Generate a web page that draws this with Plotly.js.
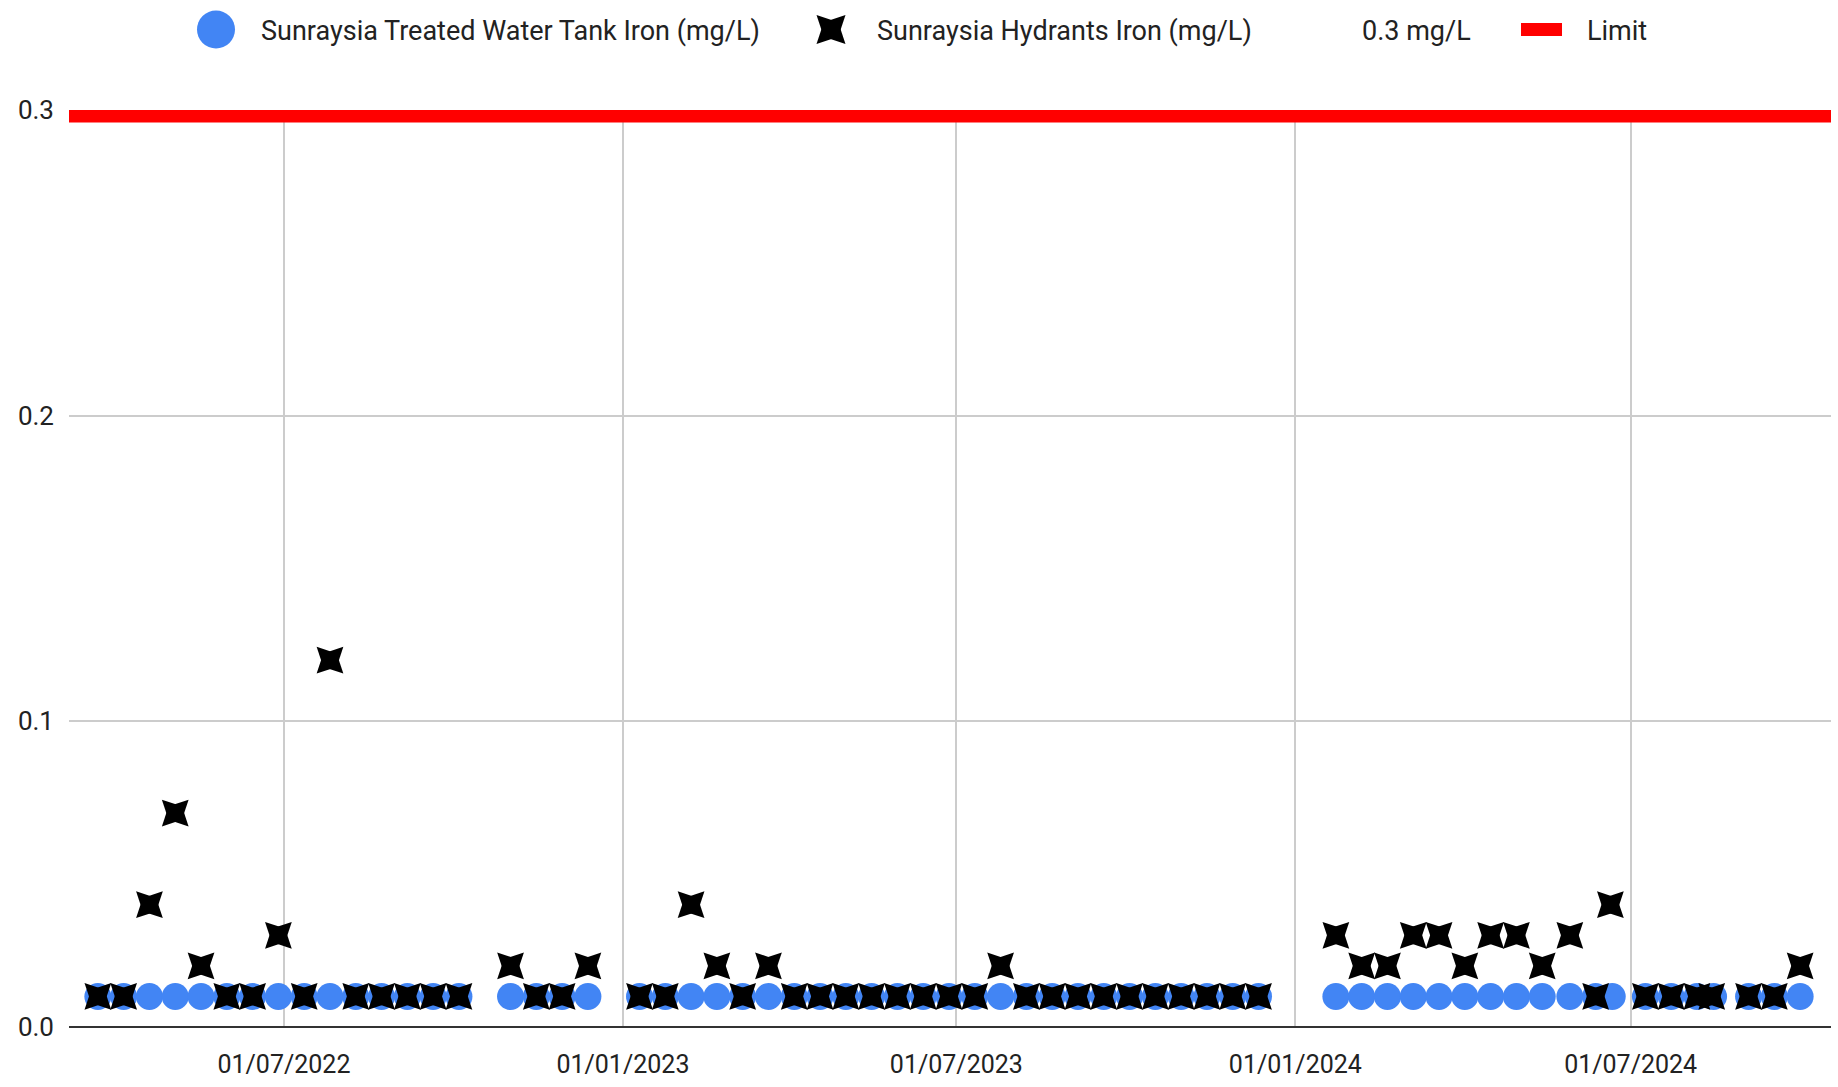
<!DOCTYPE html>
<html><head><meta charset="utf-8">
<script src="https://cdn.plot.ly/plotly-3.0.1.min.js"></script>
<style>html,body{margin:0;padding:0;background:#fff}#chart{width:1838px;height:1087px}</style>
</head><body><div id="chart"></div><script>
const tankDates = [
  '2022-03-22','2022-04-05','2022-04-19','2022-05-03','2022-05-17','2022-05-31','2022-06-14','2022-06-28','2022-07-12','2022-07-26','2022-08-09','2022-08-23','2022-09-06','2022-09-20','2022-10-04',
  '2022-11-01','2022-11-15','2022-11-29','2022-12-13',
  '2023-01-10','2023-01-24','2023-02-07','2023-02-21','2023-03-07','2023-03-21','2023-04-04','2023-04-18','2023-05-02','2023-05-16','2023-05-30','2023-06-13','2023-06-27','2023-07-11','2023-07-25','2023-08-08','2023-08-22','2023-09-05','2023-09-19','2023-10-03','2023-10-17','2023-10-31','2023-11-14','2023-11-28','2023-12-12',
  '2024-01-23','2024-02-06','2024-02-20','2024-03-05','2024-03-19','2024-04-02','2024-04-16','2024-04-30','2024-05-14','2024-05-29','2024-06-12','2024-06-21',
  '2024-07-09','2024-07-23','2024-08-06','2024-08-15','2024-09-03','2024-09-17','2024-10-01'
];
const tankIron = [
  0.01,0.01,0.01,0.01,0.01,0.01,0.01,0.01,0.01,0.01,0.01,0.01,0.01,0.01,0.01,
  0.01,0.01,0.01,0.01,
  0.01,0.01,0.01,0.01,0.01,0.01,0.01,0.01,0.01,0.01,0.01,0.01,0.01,0.01,0.01,0.01,0.01,0.01,0.01,0.01,0.01,0.01,0.01,0.01,0.01,
  0.01,0.01,0.01,0.01,0.01,0.01,0.01,0.01,0.01,0.01,0.01,0.01,
  0.01,0.01,0.01,0.01,0.01,0.01,0.01
];
const hydrantDates = [
  '2022-03-22','2022-04-05','2022-04-19','2022-05-03','2022-05-17','2022-05-31','2022-06-14','2022-06-28','2022-07-12','2022-07-26','2022-08-09','2022-08-23','2022-09-06','2022-09-20','2022-10-04',
  '2022-11-01','2022-11-15','2022-11-29','2022-12-13',
  '2023-01-10','2023-01-24','2023-02-07','2023-02-21','2023-03-07','2023-03-21','2023-04-04','2023-04-18','2023-05-02','2023-05-16','2023-05-30','2023-06-13','2023-06-27','2023-07-11','2023-07-25','2023-08-08','2023-08-22','2023-09-05','2023-09-19','2023-10-03','2023-10-17','2023-10-31','2023-11-14','2023-11-28','2023-12-12',
  '2024-01-23','2024-02-06','2024-02-20','2024-03-05','2024-03-19','2024-04-02','2024-04-16','2024-04-30','2024-05-14','2024-05-29','2024-06-12','2024-06-20',
  '2024-07-09','2024-07-23','2024-08-06','2024-08-14','2024-09-03','2024-09-17','2024-10-01'
];
const hydrantIron = [
  0.01,0.01,0.04,0.07,0.02,0.01,0.01,0.03,0.01,0.12,0.01,0.01,0.01,0.01,0.01,
  0.02,0.01,0.01,0.02,
  0.01,0.01,0.04,0.02,0.01,0.02,0.01,0.01,0.01,0.01,0.01,0.01,0.01,0.01,0.02,0.01,0.01,0.01,0.01,0.01,0.01,0.01,0.01,0.01,0.01,
  0.03,0.02,0.02,0.03,0.03,0.02,0.03,0.03,0.02,0.03,0.01,0.04,
  0.01,0.01,0.01,0.01,0.01,0.01,0.02
];
const limitDates = ['2022-03-01','2024-10-31'];
const limitValues = [0.3, 0.3];
const xTickDates = ['2022-07-01','2023-01-01','2023-07-01','2024-01-01','2024-07-01'];
const xTickLabels = ['01/07/2022','01/01/2023','01/07/2023','01/01/2024','01/07/2024'];
const yTickValues = [0, 0.1, 0.2, 0.3];
const yTickLabels = ['0.0','0.1','0.2','0.3'];
const seriesNames = ['Sunraysia Treated Water Tank Iron (mg/L)','Sunraysia Hydrants Iron (mg/L)','0.3 mg/L','Limit'];

const FONT = 'Roboto, "Liberation Sans", Arial, sans-serif';
const TXT = '#222222';
// the hydrant "x" marker is built from two crossed narrow diamonds
const crossArm = {symbol: 'diamond-tall', size: 27, color: '#000000', line: {width: 0}};
const traces = [
  {x: tankDates, y: tankIron, name: seriesNames[0], type: 'scatter', mode: 'markers', legend: 'legend',
   marker: {symbol: 'circle', size: 27, color: '#4285F4'}, cliponaxis: false},
  {x: hydrantDates, y: hydrantIron, name: seriesNames[1], type: 'scatter', mode: 'markers', legend: 'legend2',
   marker: Object.assign({angle: 45}, crossArm), cliponaxis: false},
  {x: hydrantDates, y: hydrantIron, name: seriesNames[1], type: 'scatter', mode: 'markers', legend: 'legend2',
   showlegend: false, marker: Object.assign({angle: -45}, crossArm), cliponaxis: false},
  {x: limitDates, y: limitValues, name: seriesNames[2], type: 'scatter', mode: 'lines', legend: 'legend3',
   line: {color: 'rgba(0,0,0,0)', width: 1}, hoverinfo: 'skip'},
  {x: limitDates, y: limitValues, name: seriesNames[3], type: 'scatter', mode: 'lines', legend: 'legend4',
   line: {color: '#ff0000', width: 25}}
];
function leg(x, w) {
  return {orientation: 'h', x: x, xanchor: 'left', y: 1.0861, yanchor: 'middle',
    font: {family: FONT, size: 27, color: TXT}, itemwidth: w, bgcolor: 'rgba(0,0,0,0)', borderwidth: 0};
}
const layout = {
  width: 1838, height: 1087,
  margin: {l: 69, r: 7, t: 109, b: 60, pad: 0},
  paper_bgcolor: '#ffffff', plot_bgcolor: '#ffffff',
  font: {family: FONT, size: 26, color: TXT},
  showlegend: true,
  legend: leg(0.05789, 80),
  legend2: leg(0.40636, 82),
  legend3: leg(0.71112, 30),
  legend4: leg(0.82123, 61),
  xaxis: {type: 'date', range: ['2022-03-06 08:00', '2024-10-17 18:00'],
    tickmode: 'array', tickvals: xTickDates, ticktext: xTickLabels,
    showgrid: true, gridcolor: '#cccccc', gridwidth: 2, zeroline: false, showline: false,
    ticks: '', ticklabelstandoff: 20, tickfont: {family: FONT, size: 25, color: TXT}},
  yaxis: {range: [0, 0.3], tickmode: 'array', tickvals: yTickValues, ticktext: yTickLabels,
    showgrid: true, gridcolor: '#cccccc', gridwidth: 2,
    zeroline: true, zerolinecolor: '#333333', zerolinewidth: 2.5, showline: false,
    ticks: '', ticklabelstandoff: 14, tickfont: {family: FONT, size: 26, color: TXT}}
};
Plotly.newPlot('chart', traces, layout, {displayModeBar: false, staticPlot: true}).then(function (gd) {
  // enlarge legend symbols to the reference's legend size
  gd.querySelectorAll('.legendpoints path.scatterpts').forEach(function (p) {
    var fill = (p.style.fill || '').replace(/\s/g, '');
    var t = p.getAttribute('transform') || '';
    if (fill === 'rgb(66,133,244)') {
      p.setAttribute('transform', t + ' scale(2.375)');
    } else if (fill === 'rgb(0,0,0)') {
      var d = p.getAttribute('d') || '';
      var rotated = !/^M0,/.test(d);
      var clone = p.cloneNode(true);
      if (rotated) {
        p.setAttribute('transform', t + ' scale(1.83)');
        clone.setAttribute('transform', t + ' scale(1.83) rotate(90)');
      } else {
        p.setAttribute('transform', t + ' scale(1.83) rotate(45)');
        clone.setAttribute('transform', t + ' scale(1.83) rotate(-45)');
      }
      p.parentNode.appendChild(clone);
    }
  });
  gd.querySelectorAll('.legendlines path').forEach(function (p) {
    var stroke = (p.style.stroke || '').replace(/\s/g, '');
    if (stroke === 'rgb(255,0,0)') { p.setAttribute('d', 'M5,0h41'); p.style.strokeWidth = '13px'; }
  });
});
</script></body></html>
